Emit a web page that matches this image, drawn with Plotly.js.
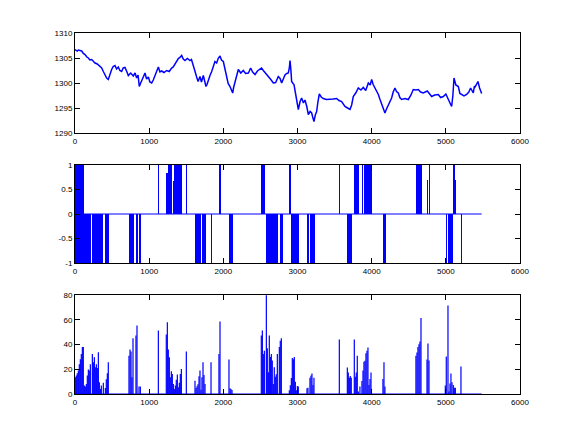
<!DOCTYPE html>
<html>
<head>
<meta charset="utf-8">
<script src="https://cdn.plot.ly/plotly-3.0.1.min.js"></script>
<style>html,body{margin:0;padding:0;background:#fff;}#chart{width:575px;height:444px;}</style>
</head>
<body>
<div id="chart"></div>
<script>
// ---------- Data ----------
const xTickVals = [0, 1000, 2000, 3000, 4000, 5000, 6000];
const xTickText = ['0', '1000', '2000', '3000', '4000', '5000', '6000'];
const priceTickVals = [1290, 1295, 1300, 1305, 1310];
const priceTickText = ['1290', '1295', '1300', '1305', '1310'];
const signalTickVals = [-1, -0.5, 0, 0.5, 1];
const signalTickText = ['-1', '-0.5', '0', '0.5', '1'];
const volTickVals = [0, 20, 40, 60, 80];
const volTickText = ['0', '20', '40', '60', '80'];
const seriesEnd = 5483;

const priceX = [0,30,45,67,90,112,135,160,180,200,225,250,270,300,337,360,382,405,427,449,470,494,515,539,560,584,605,629,650,674,695,719,750,786,810,831,850,867,880,899,920,944,965,989,1010,1034,1055,1079,1100,1124,1145,1168,1200,1236,1270,1303,1325,1348,1370,1393,1415,1438,1460,1483,1515,1550,1570,1595,1615,1640,1660,1685,1705,1730,1750,1766,1780,1798,1820,1843,1865,1887,1910,1930,1955,1975,2000,2020,2045,2065,2090,2110,2126,2140,2157,2180,2202,2235,2269,2300,2337,2350,2368,2395,2427,2460,2494,2515,2539,2570,2607,2640,2674,2705,2741,2765,2786,2810,2831,2855,2876,2890,2899,2910,2921,2940,2953,2970,2988,3000,3011,3035,3056,3080,3101,3125,3146,3170,3191,3205,3222,3240,3258,3275,3294,3320,3348,3390,3438,3480,3528,3560,3595,3620,3640,3675,3708,3730,3752,3785,3820,3855,3887,3920,3955,3980,4000,4020,4045,4065,4090,4110,4134,4155,4179,4200,4224,4245,4269,4290,4314,4335,4359,4380,4404,4450,4494,4530,4561,4595,4629,4660,4696,4750,4809,4850,4898,4930,4966,5000,5033,5055,5078,5095,5110,5135,5168,5190,5213,5245,5281,5310,5334,5350,5370,5385,5393,5410,5433,5455,5483];
const priceY = [1306.7,1306.4,1306.6,1306.5,1306.4,1305.9,1305.7,1305.2,1305.0,1304.6,1304.7,1304.3,1304.0,1303.8,1303.3,1303.0,1302.3,1301.6,1301.0,1300.7,1301.8,1302.7,1303.3,1303.5,1302.8,1303.2,1302.5,1302.3,1303.0,1303.1,1302.4,1301.5,1302.0,1301.4,1302.0,1301.0,1301.6,1299.3,1299.8,1300.5,1301.3,1302.0,1300.8,1301.2,1300.2,1300.0,1300.6,1301.4,1302.2,1303.2,1302.2,1302.4,1302.1,1302.5,1302.3,1303.0,1303.2,1303.7,1304.2,1304.9,1305.1,1305.5,1304.8,1304.5,1304.9,1304.5,1304.7,1303.7,1302.5,1301.2,1300.3,1301.3,1300.2,1301.5,1299.8,1299.3,1299.7,1300.6,1301.5,1302.3,1303.6,1304.3,1304.0,1304.9,1305.4,1304.6,1304.3,1302.8,1301.7,1299.9,1299.3,1298.6,1298.0,1299.2,1300.3,1301.8,1302.7,1302.0,1302.5,1301.9,1302.0,1302.4,1303.0,1302.2,1301.7,1302.4,1302.8,1303.0,1302.5,1302.0,1301.4,1300.7,1300.0,1300.1,1301.3,1300.9,1300.0,1300.8,1301.6,1301.9,1302.0,1303.0,1304.5,1302.8,1300.3,1299.9,1299.7,1298.2,1296.3,1295.2,1294.7,1296.3,1297.0,1296.0,1296.6,1295.3,1293.7,1294.3,1294.0,1293.2,1292.3,1293.6,1294.3,1296.2,1297.8,1297.2,1296.9,1296.7,1296.7,1296.8,1296.9,1296.5,1296.3,1295.8,1295.3,1295.0,1294.7,1295.6,1297.3,1298.0,1299.0,1298.6,1299.1,1298.5,1300.0,1299.6,1300.7,1299.7,1299.0,1298.2,1297.7,1296.8,1295.7,1294.9,1294.0,1294.8,1295.7,1296.1,1297.0,1298.2,1299.0,1298.3,1298.0,1297.1,1296.7,1296.9,1296.7,1297.6,1298.7,1298.6,1298.7,1298.2,1298.0,1298.4,1297.3,1297.6,1297.7,1297.1,1297.3,1297.8,1296.7,1296.2,1295.3,1297.5,1301.0,1299.6,1299.3,1297.9,1297.7,1297.4,1297.7,1298.2,1299.0,1298.4,1298.0,1299.4,1299.2,1299.6,1300.3,1299.0,1297.9];

// signal runs: start, end (sample index) and level
const posStart = [0,1126,1231,1252,1318,1335,1497,1942,2508,2885,3564,3762,3870,3890,4598,4750,4768,5097,5120];
const posEnd   = [121,1126,1248,1310,1330,1443,1497,1969,2562,2908,3564,3830,3880,4005,4674,4765,4782,5118,5133];
const posVal   = [1,1,0.83,1,0.68,1,1,1,1,1,1,1,1,1,1,0.7,1,1,0.7];
const negStart = [0,229,377,400,728,822,858,1618,1712,1834,2076,2575,2764,2912,3128,3173,3672,4153,5011,5029,5205];
const negEnd   = [216,364,377,454,796,845,886,1699,1762,1834,2130,2733,2804,3020,3155,3232,3735,4193,5011,5093,5205];
const negVal   = [-1,-1,-1,-1,-1,-1,-1,-1,-1,-1,-1,-1,-1,-1,-1,-1,-1,-1,-1,-1,-1];

const volX = [4,18,31,45,58,72,85,99,112,126,139,153,166,180,193,207,234,247,261,274,288,301,315,328,342,355,382,409,422,436,449,
  728,742,755,768,782,822,836,863,881,
  1124,1231,1245,1258,1272,1285,1299,1312,1326,1339,1353,1366,1380,1393,1407,1420,1434,
  1501,1618,1631,1645,1658,1672,1685,1699,1712,1726,1739,1753,1834,1941,1955,2076,2090,2103,2117,
  2512,2526,2539,2553,2580,2593,2607,2620,2634,2647,2660,2674,2687,2701,2714,2728,2755,2768,2782,
  2890,2903,2917,2930,2944,2957,2971,2984,2998,3011,3128,3141,3168,3182,3195,3209,3222,
  3564,3672,3685,3699,3712,3725,3766,3779,3793,3806,3820,3842,3869,3883,3896,3910,3923,3937,3950,3964,3977,3991,
  4152,4166,4179,4597,4611,4624,4638,4651,4665,4746,4759,4773,
  4993,5006,5029,5042,5056,5069,5083,5101,5114,5128,5204];
const volY = [13.5,14.9,16.8,19,24,28,32.4,38,38,6.8,6,8,15,19.7,19,24,32.4,25.7,29.7,21.6,24,21,33.8,9.5,4,6.8,9,4.9,12,16.8,25.7,
  31,36,34.3,13.5,45,47.3,55.4,6,6,
  51.4,48,58,36,29.7,13.5,18.4,16.2,8,4,6.8,11.6,15.7,5.4,9,16.2,20.3,
  34.3,10.8,4.9,6.2,7.8,14.3,19,3.5,13.5,25.7,15.4,8.1,25.7,32.4,58.6,27.8,4.6,4,3.2,
  47.3,51.4,32.4,35,79.7,37,17.6,47.3,30,32.4,27,8,21.6,14,16,32.4,38,43,45,
  3,7,13,29,28,30,10,3,6.5,6,4.6,5,13.2,15,16.5,7.3,13.2,
  44,21.4,17.3,13.2,14.6,13.2,44,14,17.3,31,2,6,10.5,19,26,26.8,33,35,37.6,7.3,12.2,17.3,
  12.2,25.7,6,31,33.5,38,40.3,42.4,61.4,27.8,40.8,27,
  6.8,30.3,71.6,2,8.4,16.5,9.5,7.3,5,5,22.2];

// ---------- Build ----------
const BLUE = '#0000ff';
const FONT = {family: '"Liberation Sans Narrow", "Arial Narrow", "Liberation Sans", sans-serif', size: 8, color: '#000'};
const minW = 14;

function runsToBar(s, e, v, xa, ya) {
  return {
    type: 'bar', xaxis: xa, yaxis: ya,
    x: s.map((a, i) => (a + e[i]) / 2),
    width: s.map((a, i) => Math.max(e[i] - a, minW)),
    y: v, base: 0,
    marker: {color: BLUE, line: {width: 0}},
    hoverinfo: 'skip', showlegend: false
  };
}

// vertical spikes as a line trace (x,0)-(x,v) separated by gaps
const spikeX = [], spikeY = [];
volX.forEach((x, i) => { spikeX.push(x, x, null); spikeY.push(0, volY[i], null); });

const traces = [
  {type: 'scatter', mode: 'lines', x: priceX, y: priceY, xaxis: 'x', yaxis: 'y',
   line: {color: BLUE, width: 1.5}, showlegend: false, hoverinfo: 'skip'},
  runsToBar(posStart, posEnd, posVal, 'x2', 'y2'),
  runsToBar(negStart, negEnd, negVal, 'x2', 'y2'),
  {type: 'scatter', mode: 'lines', x: [0, seriesEnd], y: [0, 0], xaxis: 'x2', yaxis: 'y2',
   line: {color: BLUE, width: 1}, showlegend: false, hoverinfo: 'skip'},
  {type: 'scatter', mode: 'lines', x: spikeX, y: spikeY, xaxis: 'x3', yaxis: 'y3', connectgaps: false,
   line: {color: BLUE, width: 1.2}, showlegend: false, hoverinfo: 'skip'},
  {type: 'scatter', mode: 'lines', x: [0, seriesEnd], y: [0, 0], xaxis: 'x3', yaxis: 'y3',
   line: {color: BLUE, width: 1}, showlegend: false, hoverinfo: 'skip'}
];

const xDom = [75 / 575, 520 / 575];
function xAxis(anchor) {
  return {domain: xDom, anchor: anchor, range: [0, 6000], tickvals: xTickVals, ticktext: xTickText,
    ticks: 'inside', ticklen: 5, tickwidth: 1, tickcolor: '#000', mirror: 'allticks', showline: true,
    linecolor: '#000', linewidth: 1, showgrid: false, zeroline: false, tickfont: FONT, fixedrange: true};
}
function yAxis(anchor, dom, range, tv, tt) {
  return {domain: dom, anchor: anchor, range: range, tickvals: tv, ticktext: tt,
    ticks: 'inside', ticklen: 5, tickwidth: 1, tickcolor: '#000', mirror: 'allticks', showline: true,
    linecolor: '#000', linewidth: 1, showgrid: false, zeroline: false, tickfont: FONT, fixedrange: true};
}

const H = 444;
const layout = {
  width: 575, height: 444,
  margin: {l: 0, r: 0, t: 0, b: 0},
  paper_bgcolor: '#fff', plot_bgcolor: '#fff',
  barmode: 'overlay', bargap: 0,
  showlegend: false,
  xaxis: xAxis('y'),
  yaxis: yAxis('x', [1 - 133 / H, 1 - 33 / H], [1290, 1310], priceTickVals, priceTickText),
  xaxis2: xAxis('y2'),
  yaxis2: yAxis('x2', [1 - 263 / H, 1 - 165 / H], [-1, 1], signalTickVals, signalTickText),
  xaxis3: xAxis('y3'),
  yaxis3: yAxis('x3', [1 - 394 / H, 1 - 295 / H], [0, 80], volTickVals, volTickText)
};

Plotly.newPlot('chart', traces, layout, {staticPlot: true, displayModeBar: false});
</script>
</body>
</html>
